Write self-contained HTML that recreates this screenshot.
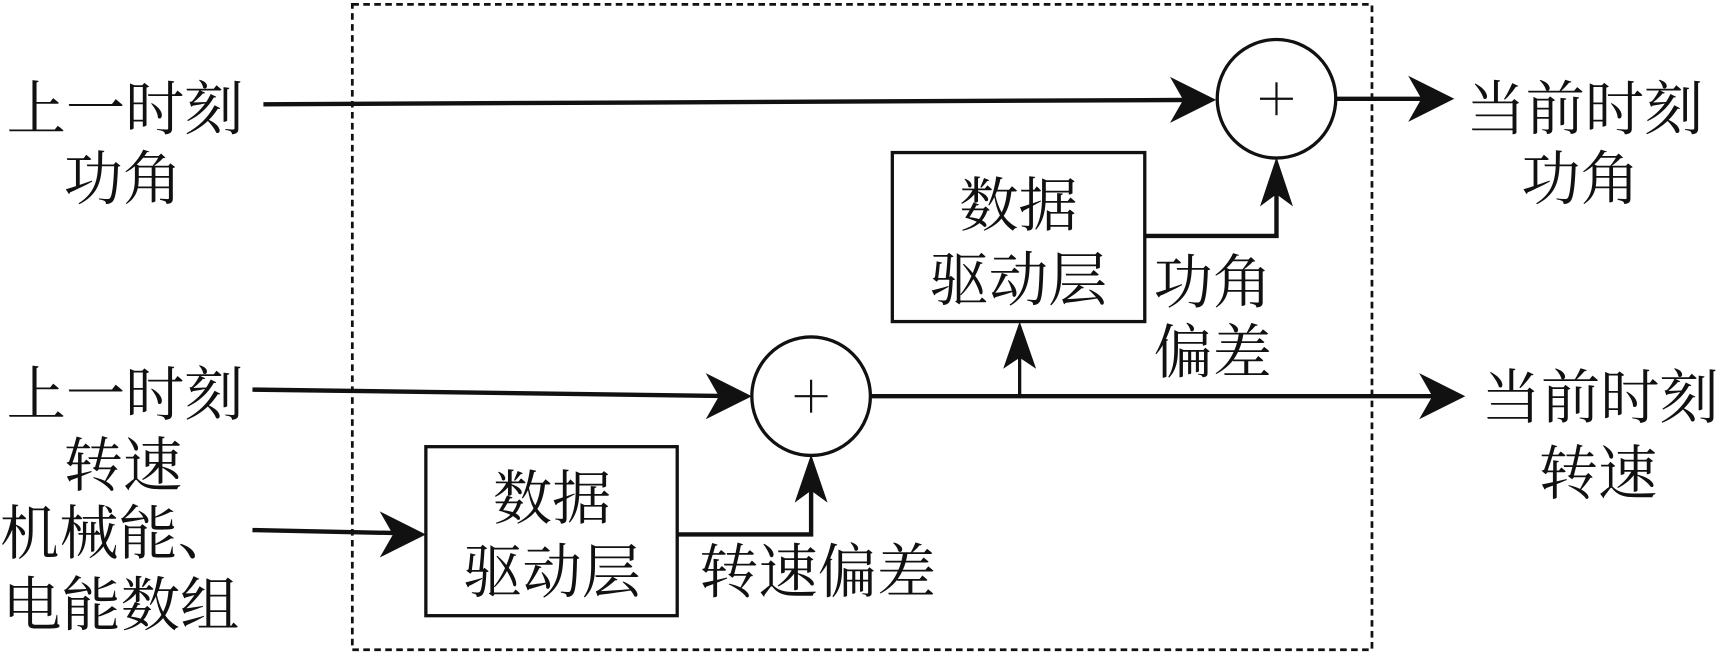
<!DOCTYPE html>
<html><head><meta charset="utf-8"><style>html,body{margin:0;padding:0;background:#fff}svg{display:block}</style></head>
<body>
<svg width="1721" height="653" viewBox="0 0 1568 595" preserveAspectRatio="none" xmlns="http://www.w3.org/2000/svg">
<g fill="none" stroke="#111">
<rect x="321" y="4" width="929" height="588" stroke-width="2.5" stroke-dasharray="6,4"/>
<circle cx="1163" cy="90" r="54" stroke-width="3"/>
<circle cx="739" cy="361" r="54" stroke-width="3"/>
<rect x="813" y="139" width="230" height="154" stroke-width="3"/>
<rect x="388" y="407" width="229" height="154" stroke-width="3"/>
<g stroke-width="4">
<line x1="240" y1="95" x2="1095" y2="91"/>
<line x1="1217" y1="90" x2="1310" y2="90"/>
<polyline points="1043,215 1163,215 1163,158"/>
<line x1="230" y1="355" x2="672" y2="361"/>
<line x1="793" y1="361" x2="1320" y2="361"/>
<polyline points="617,487 739,487 739,428"/>
<line x1="230" y1="483" x2="375" y2="486"/>
</g>
<line x1="929" y1="361" x2="929" y2="310" stroke-width="3"/>
</g>
<g fill="#111">
<polygon points="1108,91 1066,70 1078,91 1066,112"/>
<polygon points="1325,90 1283,69 1295,90 1283,111"/>
<polygon points="1163,143 1148,188 1163,177 1178,188"/>
<polygon points="685,361 643,340 655,361 643,382"/>
<polygon points="1335,361 1293,340 1305,361 1293,382"/>
<polygon points="929,293 914,336 929,326 944,336"/>
<polygon points="739,414 724,458 739,447 754,458"/>
<polygon points="388,487 346,466 358,487 346,508"/>
</g>
<g stroke="#111" stroke-width="2">
<line x1="1148" y1="90" x2="1178" y2="90"/><line x1="1163" y1="75" x2="1163" y2="105"/>
<line x1="724" y1="361" x2="754" y2="361"/><line x1="739" y1="346" x2="739" y2="376"/>
</g>
<g font-family="'Liberation Serif','Noto Serif CJK SC',serif" font-size="54" fill="#111" text-anchor="middle">
<text x="114" y="118">上一时刻</text>
<text x="112" y="182">功角</text>
<text x="114" y="378">上一时刻</text>
<text x="112" y="443">转速</text>
<text x="0" y="505" text-anchor="start">机械能、</text>
<text x="2" y="570" text-anchor="start">电能数组</text>
<text x="928" y="206">数据</text>
<text x="928" y="274">驱动层</text>
<text x="503" y="473">数据</text>
<text x="503" y="540">驱动层</text>
<text x="1105" y="276">功角</text>
<text x="1105" y="340">偏差</text>
<text x="745" y="540">转速偏差</text>
<text x="1444" y="118">当前时刻</text>
<text x="1440" y="182">功角</text>
<text x="1458" y="381">当前时刻</text>
<text x="1456" y="450">转速</text>
</g>
</svg>
</body></html>
